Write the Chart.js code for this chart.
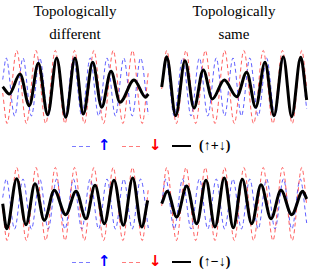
<!DOCTYPE html>
<html lang="en">
<head>
    <meta charset="UTF-8">
    <title>Topologically different / same</title>
    <script src="https://cdn.jsdelivr.net/npm/chart.js"></script>
    <style>
        body {
            margin: 0;
            width: 310px;
            height: 278px;
            background: #ffffff;
            position: relative;
            overflow: hidden;
            font-family: "Liberation Serif", "DejaVu Serif", serif;
        }
        .title {
            position: absolute;
            top: 0;
            width: 150px;
            text-align: center;
            font-size: 15px;
            line-height: 23px;
            color: #000;
        }
        canvas {
            position: absolute;
        }
        .item {
            position: absolute;
            font-size: 14px;
            line-height: 16px;
            font-weight: bold;
            white-space: nowrap;
        }
        .arrow {
            position: absolute;
            font-family: "DejaVu Sans", sans-serif;
            font-size: 15px;
            line-height: 16px;
            font-weight: bold;
        }
        .dash {
            position: absolute;
            height: 1px;
            width: 20px;
        }
        .solid {
            position: absolute;
            height: 2px;
            width: 19px;
            background: #000;
        }
    </style>
</head>
<body>
    <div class="title" style="left:0">Topologically<br>different</div>
    <div class="title" style="left:159px">Topologically<br>same</div>

    <canvas id="sumLeftChart" width="155" height="80" style="left:0;top:47px"></canvas>
    <canvas id="sumRightChart" width="155" height="80" style="left:155px;top:47px"></canvas>
    <canvas id="diffLeftChart" width="155" height="80" style="left:0;top:164px"></canvas>
    <canvas id="diffRightChart" width="155" height="80" style="left:155px;top:164px"></canvas>

    <div id="legend1"></div>
    <div id="legend2"></div>

    <script>
        // extrema, [x, y] (y up from the panel's middle line)
        const redLeft = [[2.7,-6],[7,-36.5],[16.7,36.5],[26.4,-36.5],[36,36.5],[45.7,-36.5],[55.3,36.5],[65,-36.5],[74.6,36.5],[84.3,-36.5],[93.9,36.5],[103.6,-36.5],[113.2,36.5],[122.9,-36.5],[132.5,36.5],[142.2,-36.5],[148.3,15]];
        const redRight = [[6.7,-2],[11.7,36.5],[21.4,-36.5],[31,36.5],[40.7,-36.5],[50.3,36.5],[60,-36.5],[69.6,36.5],[79.3,-36.5],[88.9,36.5],[98.6,-36.5],[108.2,36.5],[117.9,-36.5],[127.5,36.5],[137.2,-36.5],[146.8,36.5],[151.7,-1]];

        const blueLeftTop = [[2.7,7.5],[6.2,29],[14.6,-29],[23,29],[31.4,-29],[39.8,29],[48.2,-29],[56.6,29],[65,-29],[73.4,29],[81.8,-29],[90.2,29],[98.6,-29],[107,29],[115.4,-29],[123.8,29],[132.2,-29],[140.6,29],[148.3,-28]];
        const blueLeftBottom = [[2.7,6.5],[6.2,25],[14.6,-25],[23,25],[31.4,-25],[39.8,25],[48.2,-25],[56.6,25],[65,-25],[73.4,25],[81.8,-25],[90.2,25],[98.6,-25],[107,25],[115.4,-25],[123.8,25],[132.2,-25],[140.6,25],[148.3,-24]];
        const blueRightTop = [[6.7,1],[10.8,29],[19.2,-29],[27.6,29],[36,-29],[44.4,29],[52.8,-29],[61.2,29],[69.6,-29],[78,29],[86.4,-29],[94.8,29],[103.2,-29],[111.6,29],[120,-29],[128.4,29],[136.8,-29],[145.2,29],[151.7,-22]];
        const blueRightBottom = [[6.7,1],[10.8,25],[19.2,-25],[27.6,25],[36,-25],[44.4,25],[52.8,-25],[61.2,25],[69.6,-25],[78,25],[86.4,-25],[94.8,25],[103.2,-25],[111.6,25],[120,-25],[128.4,25],[136.8,-25],[145.2,25],[151.7,-19]];

        const sumLeft = [[2.7,0.3],[9.3,-7],[20,13],[29.3,-18.7],[38.3,23.7],[47.7,-27.7],[56.7,29],[65.7,-30.3],[75,29],[83.3,-27],[92.7,24.7],[101.7,-20.3],[111,15.7],[120,-15.3],[134,7],[145.7,-10.3],[148.3,-7]];
        const sumRight = [[6.7,0],[11.7,30.3],[20.7,-28.7],[30,26.3],[39,-21],[48.3,17],[57.3,-12],[69.3,7],[81.7,-9.7],[91.7,14.7],[100.7,-20.3],[110,24.7],[119,-28.7],[128.3,30.3],[136.7,-29.7],[145.7,29.7],[151.7,-13]];
        const diffLeft = [[2.7,0.3],[6.7,-24.7],[16.7,25.3],[26,-20.7],[35,20.3],[44.3,-16.3],[54.3,13.7],[65.7,-10.7],[76,12.7],[86,-14.7],[95,18.7],[104.3,-19.7],[114,23.7],[123.3,-21.3],[132.7,26],[141.7,-23],[147.7,3.7]];
        const diffRight = [[6.7,0.3],[12.3,12.7],[21.7,-13],[31.7,18],[41.7,-19.7],[51,23.7],[60,-23],[69.3,26],[78.3,-23.7],[87.3,24.7],[96.7,-19.7],[106,19.3],[116,-14.7],[126,13.7],[136.7,-10.7],[147.7,12.7],[151.7,5]];

        const legendLabels = ['(\u2191+\u2193)', '(\u2191\u2212\u2193)'];

        function toPoints(arr) {
            return arr.map(p => ({ x: p[0], y: p[1] }));
        }

        function createChartConfig(black, red, blue) {
            const line = {
                pointRadius: 0,
                fill: false,
                cubicInterpolationMode: 'monotone'
            };
            return {
                type: 'line',
                data: {
                    datasets: [
                        Object.assign({ data: toPoints(black), borderColor: '#000000', borderWidth: 3 }, line),
                        Object.assign({ data: toPoints(red), borderColor: 'rgba(255, 40, 40, 0.75)', borderWidth: 1, borderDash: [4, 3] }, line),
                        Object.assign({ data: toPoints(blue), borderColor: 'rgba(40, 40, 255, 0.75)', borderWidth: 1, borderDash: [4, 3] }, line)
                    ]
                },
                options: {
                    responsive: false,
                    animation: false,
                    events: [],
                    layout: { padding: 0 },
                    plugins: {
                        legend: { display: false },
                        tooltip: { enabled: false }
                    },
                    scales: {
                        x: { type: 'linear', min: 0, max: 155, display: false },
                        y: { min: -40, max: 40, display: false }
                    }
                }
            };
        }

        new Chart(document.getElementById('sumLeftChart'), createChartConfig(sumLeft, redLeft, blueLeftTop));
        new Chart(document.getElementById('sumRightChart'), createChartConfig(sumRight, redRight, blueRightTop));
        new Chart(document.getElementById('diffLeftChart'), createChartConfig(diffLeft, redLeft, blueLeftBottom));
        new Chart(document.getElementById('diffRightChart'), createChartConfig(diffRight, redRight, blueRightBottom));

        function buildLegend(id, y, label) {
            const el = document.getElementById(id);
            el.innerHTML =
                '<div class="dash" style="left:72px;top:' + y + 'px;background:repeating-linear-gradient(to right, rgba(90,90,255,0.8) 0 4px, transparent 4px 7px)"></div>' +
                '<div class="arrow" style="left:98px;top:' + (y - 9) + 'px;color:#0000ff">\u2191</div>' +
                '<div class="dash" style="left:122px;top:' + y + 'px;background:repeating-linear-gradient(to right, rgba(255,90,90,0.8) 0 4px, transparent 4px 7px)"></div>' +
                '<div class="arrow" style="left:149px;top:' + (y - 9) + 'px;color:#ff0000">\u2193</div>' +
                '<div class="solid" style="left:172px;top:' + (y - 1) + 'px"></div>' +
                '<div class="item" style="left:199px;top:' + (y - 8) + 'px">' + label + '</div>';
        }

        buildLegend('legend1', 146, legendLabels[0]);
        buildLegend('legend2', 262, legendLabels[1]);
    </script>
</body>
</html>
